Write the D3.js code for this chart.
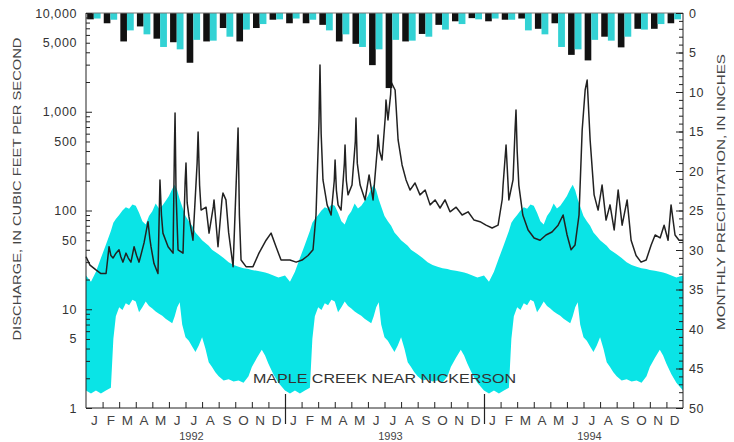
<!DOCTYPE html>
<html><head><meta charset="utf-8">
<script src="https://cdn.jsdelivr.net/npm/d3@7/dist/d3.min.js"></script>
<style>body{margin:0;background:#fff}svg{display:block}</style>
</head><body><svg id="c" width="734" height="442"></svg>
<script>
// ---------------- DATA ----------------
const monthLetters = ["J","F","M","A","M","J","J","A","S","O","N","D"];
const years = ["1992","1993","1994"];
const leftTicks = [1,5,10,50,100,500,1000,5000,10000];
const leftTickLabels = ["1","5","10","50","100","500","1,000","5,000","10,000"];
const rightTicks = [0,5,10,15,20,25,30,35,40,45,50];
const title = "MAPLE CREEK NEAR NICKERSON";
const leftTitle = "DISCHARGE, IN CUBIC FEET PER SECOND";
const rightTitle = "MONTHLY PRECIPITATION, IN INCHES";

// monthly precipitation (inches), Jan 1992 - Dec 1994
const precipObserved = [
  0.8, 1.3, 3.6, 1.7, 3.25, 3.7, 6.3, 3.6, 1.9, 3.6, 1.9, 0.85,
  1.3, 1.3, 1.5, 3.6, 3.9, 6.6, 9.5, 3.6, 2.65, 1.5, 1.05, 0.65,
  1.05, 0.85, 0.7, 2.0, 1.3, 5.3, 6.0, 3.0, 4.35, 2.0, 2.0, 1.3
];
// normal monthly precipitation (inches)
const precipNormal = [0.7, 0.85, 2.2, 2.7, 4.3, 4.6, 3.4, 3.5, 3.0, 2.1, 1.4, 0.8];

// range of daily discharge for period of record (month of year, cfs)
const bandMonth = [0.0,0.3,0.6,0.9,1.2,1.5,1.65,1.8,2.0,2.2,2.4,2.6,2.8,3.0,3.2,3.4,3.6,3.8,4.0,4.2,4.4,4.6,4.8,5.0,5.2,5.35,5.5,5.65,5.8,6.0,6.2,6.4,6.6,6.8,7.0,7.2,7.4,7.6,7.8,8.0,8.3,8.6,8.9,9.2,9.5,9.8,10.0,10.3,10.6,10.8,11.0,11.3,11.6,12.0];
const bandLow  = [1.5,1.4,1.5,1.4,1.5,1.6,5.0,8.5,10.5,9.8,11.5,11.0,12.5,12.0,9.3,10.5,12.0,10.8,10.2,9.5,9.0,8.6,8.0,7.6,7.2,8.5,10.5,11.8,7.0,5.2,4.8,4.2,3.7,4.3,5.2,4.0,2.9,2.6,2.3,2.1,1.9,1.95,1.85,1.9,1.8,2.1,2.6,3.2,3.9,3.4,2.8,2.2,1.8,1.5];
const bandHigh = [22,19,24,33,45,62,75,82,90,100,108,104,115,112,95,78,72,88,98,118,105,112,125,140,165,182,160,130,110,88,78,70,60,55,50,47,44,40,38,36,33,30,28,27,26,25.5,25,24.5,24,23.5,23,22,21,22];

// daily discharge, months since Jan 1 1992 (cfs)
const flowMonth = [
  0,0.24,0.6,0.9,1.21,1.39,1.5,1.63,1.81,1.99,2.1,2.23,2.41,2.55,2.71,2.9,3.05,3.2,3.5,3.74,3.85,3.92,4.1,4.34,4.46,4.55,4.64,4.95,5.25,5.33,5.37,5.43,5.55,5.85,5.98,6.03,6.1,6.21,6.45,6.7,6.76,6.85,6.94,7.24,7.42,7.68,7.72,7.96,8.2,8.26,8.44,8.6,8.87,9.1,9.17,9.25,9.35,9.65,10.07,10.43,10.86,11.16,11.46,11.76,12.06,
  12.3,12.67,13.03,13.39,13.69,13.87,14.05,14.11,14.18,14.29,14.54,14.78,14.97,15.02,15.1,15.2,15.38,15.58,15.62,15.7,15.8,16.04,16.24,16.28,16.36,16.53,16.83,17.07,17.31,17.58,17.61,17.7,17.85,18.05,18.09,18.21,18.37,18.4,18.64,18.82,19.06,19.3,19.54,19.84,20.14,20.45,20.75,21.05,21.35,21.65,21.95,22.32,22.68,23.04,23.4,23.76,24.12,
  24.49,24.85,25.1,25.15,25.33,25.5,25.75,25.88,25.93,26.0,26.1,26.34,26.66,27.02,27.38,27.74,28.1,28.47,28.77,29.01,29.25,29.49,29.73,29.92,30.1,30.22,30.4,30.64,30.88,31.12,31.36,31.6,31.85,32.09,32.33,32.63,32.87,33.17,33.47,33.78,34.08,34.32,34.62,34.86,35.1,35.28,35.52,35.76,36
];
const flowCfs = [
  34,28,25,23,23,43,35,33,37,40,34,30,37,33,30,43,35,30,47,77,52,43,29,23,204,90,59,43,37,400,970,150,40,37,200,303,120,86,50,300,623,180,101,108,59,110,128,43,130,150,128,60,27,300,685,90,31.5,27,27,37,50,59,43,31.5,31.5,
  31.5,30,31.5,35,40,90,800,2970,600,204,114,90,200,325,160,114,101,300,461,200,144,181,500,865,300,181,128,229,128,450,582,400,325,900,1315,825,1500,2000,1660,518,289,204,161,190,144,161,114,128,106,128,97,108,90,97,80,77,71,
  66.5,71,130,181,461,128,204,700,1042,400,181,90,63.5,52.7,50,56.5,60.6,71,90,56.5,40,44.8,90,653,1660,2095,518,144,101,181,80,114,63.5,161,71,128,50,35,30,31.5,44.8,56.5,52.7,71,50,114,56.5,50,50
];

// ---------------- CHART ----------------
const svg = d3.select("#c");
const L = 86, R = 683, T = 13, B = 408;
const font = "'Liberation Sans', Arial, Helvetica, sans-serif";
const cyan = "#0ae4e6";
const barCyan = "#33d2d4";

const x = d3.scaleLinear().domain([0, 36]).range([L, R]);
const y = d3.scaleLog().domain([1, 10000]).range([B, T]);
const p = d3.scaleLinear().domain([0, 50]).range([T, B]);

// band
const bandData = [];
years.forEach((yr, yi) => {
  bandMonth.forEach((m, i) => bandData.push({t: yi * 12 + m, lo: bandLow[i], hi: bandHigh[i]}));
});
svg.append("path")
  .datum(bandData)
  .attr("fill", cyan)
  .attr("d", d3.area().x(d => x(d.t)).y0(d => y(d.lo)).y1(d => y(d.hi)));

// discharge line
const flow = flowMonth.map((t, i) => ({t, q: flowCfs[i]}));
svg.append("path")
  .datum(flow)
  .attr("fill", "none")
  .attr("stroke", "#222")
  .attr("stroke-width", 1.5)
  .attr("stroke-linejoin", "round")
  .attr("d", d3.line().x(d => x(d.t)).y(d => y(d.q)));

// precipitation bars
const mw = x(1) - x(0);
const gBars = svg.append("g");
gBars.selectAll("rect.obs").data(precipObserved).join("rect")
  .attr("class", "obs")
  .attr("x", (d, i) => x(i) + 0.07 * mw)
  .attr("width", 0.4 * mw)
  .attr("y", p(0))
  .attr("height", d => p(d) - p(0))
  .attr("fill", "#111");
const normals = d3.range(36).map(i => precipNormal[i % 12]);
gBars.selectAll("rect.nrm").data(normals).join("rect")
  .attr("class", "nrm")
  .attr("x", (d, i) => x(i) + 0.47 * mw)
  .attr("width", 0.41 * mw)
  .attr("y", p(0))
  .attr("height", d => p(d) - p(0))
  .attr("fill", barCyan);

// frame
const axisColor = "#222";
svg.append("line").attr("x1", L).attr("x2", R).attr("y1", T).attr("y2", T).attr("stroke", "#777").attr("stroke-width", 1);

// left axis (log)
const minor = [];
for (let e = 0; e < 4; e++) for (let k = 2; k <= 9; k++) minor.push(k * Math.pow(10, e));
const gL = svg.append("g").attr("transform", `translate(${L},0)`);
gL.call(d3.axisRight(y).tickValues(minor).tickSize(4).tickFormat(""));
gL.call(g => g.selectAll(".domain").remove());
const gL2 = svg.append("g").attr("transform", `translate(${L},0)`);
gL2.call(d3.axisRight(y).tickValues([1,10,100,1000,10000]).tickSize(6).tickFormat(""));
gL2.select(".domain").attr("d", `M0,${T}V${B}`);
const gLl = svg.append("g").attr("transform", `translate(${L},0)`);
gLl.call(d3.axisLeft(y).tickValues(leftTicks).tickSize(0).tickPadding(9)
  .tickFormat((d, i) => leftTickLabels[i]));
gLl.select(".domain").remove();
gLl.selectAll("text").attr("font-family", font).attr("font-size", 12.5)
  .attr("letter-spacing", "0.6px").attr("fill", "#333");

// right axis (precip)
const gR = svg.append("g").attr("transform", `translate(${R},0)`);
gR.call(d3.axisLeft(p).tickValues(d3.range(0, 51)).tickSize(4).tickFormat(""));
gR.select(".domain").remove();
const gR2 = svg.append("g").attr("transform", `translate(${R},0)`);
gR2.call(d3.axisLeft(p).tickValues(rightTicks).tickSize(7).tickFormat(""));
gR2.select(".domain").attr("d", `M0,${T}V${B}`);
const gRl = svg.append("g").attr("transform", `translate(${R},0)`);
gRl.call(d3.axisRight(p).tickValues(rightTicks).tickSize(0).tickPadding(6));
gRl.select(".domain").remove();
gRl.selectAll("text").attr("font-family", font).attr("font-size", 12.5)
  .attr("letter-spacing", "0.6px").attr("fill", "#333");

// bottom axis
const gB = svg.append("g").attr("transform", `translate(0,${B})`);
gB.call(d3.axisTop(x).tickValues(d3.range(1, 36)).tickSize(6).tickFormat(""));
gB.select(".domain").attr("d", `M${L},0H${R}`);
// year separators
const gY = svg.append("g").attr("transform", `translate(0,${B})`);
gY.call(d3.axisBottom(x).tickValues([12, 24]).tickSize(16).tickFormat(""));
gY.select(".domain").remove();
gY.selectAll(".tick line").attr("y1", -14).attr("stroke-width", 1.2);
[gL, gL2, gR, gR2, gB, gY].forEach(g => g.selectAll("line, path").attr("stroke", axisColor));

// month letters
svg.append("g").selectAll("text").data(d3.range(36)).join("text")
  .attr("x", i => x(i + 0.5))
  .attr("y", 425)
  .attr("text-anchor", "middle")
  .attr("font-family", font).attr("font-size", 13.5)
  .attr("fill", "#444")
  .text(i => monthLetters[i % 12]);

// years
svg.append("g").selectAll("text").data(years).join("text")
  .attr("x", (d, i) => x(i * 12 + 6) + 6)
  .attr("y", 440)
  .attr("text-anchor", "middle")
  .attr("font-family", font).attr("font-size", 11)
  .attr("fill", "#444")
  .text(d => d);

// station title
svg.append("text")
  .attr("x", 253).attr("y", 383)
  .attr("font-family", font).attr("font-size", 13.5)
  .attr("fill", "#333")
  .attr("textLength", 263).attr("lengthAdjust", "spacingAndGlyphs")
  .text(title);

// axis titles
svg.append("text")
  .attr("transform", "translate(21,189) rotate(-90)")
  .attr("text-anchor", "middle")
  .attr("font-family", font).attr("font-size", 11.5)
  .attr("fill", "#444")
  .attr("textLength", 303).attr("lengthAdjust", "spacingAndGlyphs")
  .text(leftTitle);
svg.append("text")
  .attr("transform", "translate(725,192) rotate(-90)")
  .attr("text-anchor", "middle")
  .attr("font-family", font).attr("font-size", 11.5)
  .attr("fill", "#444")
  .attr("textLength", 276).attr("lengthAdjust", "spacingAndGlyphs")
  .text(rightTitle);
</script>
</body></html>
